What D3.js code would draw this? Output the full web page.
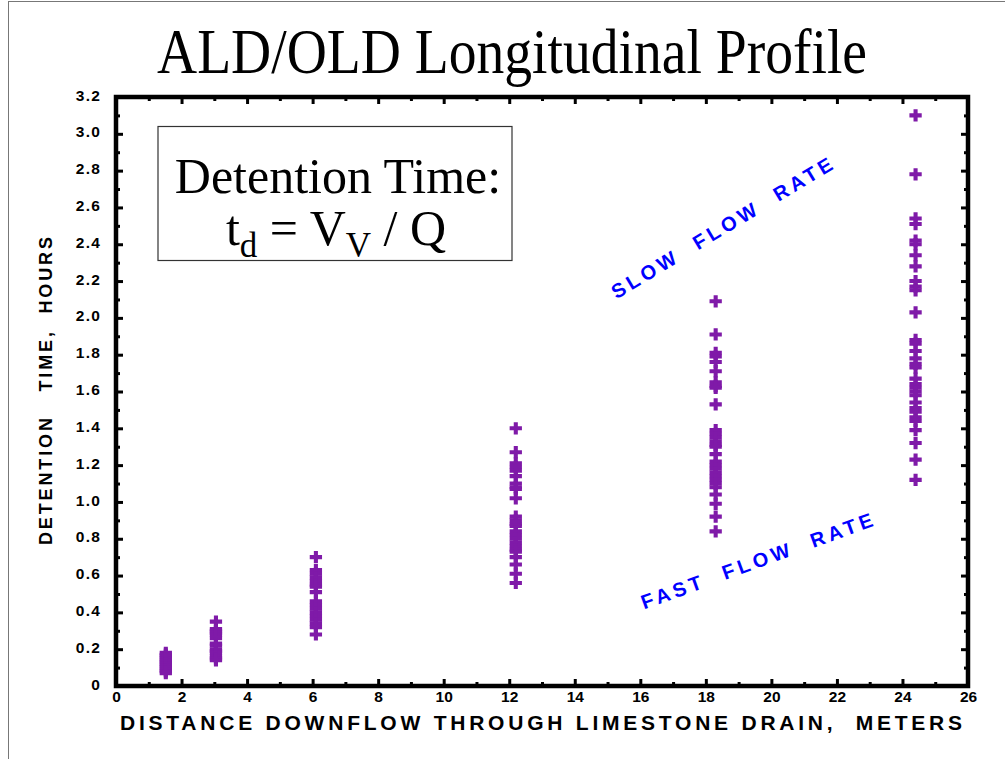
<!DOCTYPE html>
<html>
<head>
<meta charset="utf-8">
<script src="https://cdn.jsdelivr.net/npm/d3@7"></script>
<style>
  body { margin: 0; background: #fff; }
  svg { display: block; }
</style>
</head>
<body>
<div class="container"></div>
<script>
// distances along the drain (m)
const distances = [1.52, 3.05, 6.1, 12.2, 18.3, 24.4]

// detention times (hours)
const times152 = [0.18, 0.17, 0.16, 0.15, 0.14, 0.13, 0.12, 0.11, 0.10, 0.09, 0.08, 0.07]
const times305 = [0.35, 0.31, 0.30, 0.29, 0.28, 0.26, 0.23, 0.22, 0.20, 0.19, 0.18, 0.16, 0.15, 0.14]
const times610 = [0.70, 0.63, 0.61, 0.59, 0.57, 0.55, 0.54, 0.51, 0.46, 0.44, 0.42, 0.40, 0.38, 0.36, 0.34, 0.32, 0.28]
const times1220 = [1.40, 1.27, 1.21, 1.19, 1.17, 1.14, 1.10, 1.08, 1.07, 1.02, 0.92, 0.90, 0.88, 0.87, 0.84,
    0.82, 0.80, 0.78, 0.76, 0.74, 0.73, 0.70, 0.66, 0.61, 0.56]
const times1830 = [2.09, 1.91, 1.81, 1.79, 1.76, 1.71, 1.65, 1.63, 1.62, 1.53, 1.39, 1.37, 1.35, 1.33, 1.31,
    1.30, 1.26, 1.22, 1.20, 1.18, 1.16, 1.14, 1.12, 1.10, 1.08, 1.04, 0.99, 0.92, 0.84]
const times2440 = [3.10, 2.78, 2.54, 2.51, 2.42, 2.40, 2.34, 2.28, 2.20, 2.17, 2.15, 2.03, 1.88, 1.86, 1.82,
    1.78, 1.75, 1.73, 1.67, 1.64, 1.62, 1.60, 1.58, 1.54, 1.51, 1.49, 1.46, 1.44, 1.39, 1.32, 1.23, 1.12]
const columns = [times152, times305, times610, times1220, times1830, times2440]

// tick labels
const xTicks = [0, 2, 4, 6, 8, 10, 12, 14, 16, 18, 20, 22, 24, 26]
const xMinor = [1, 3, 5, 7, 9, 11, 13, 15, 17, 19, 21, 23, 25]
const yTicks = [0, 0.2, 0.4, 0.6, 0.8, 1.0, 1.2, 1.4, 1.6, 1.8, 2.0, 2.2, 2.4, 2.6, 2.8, 3.0, 3.2]
const yTickLabels = ['0', '0.2', '0.4', '0.6', '0.8', '1.0', '1.2', '1.4', '1.6', '1.8', '2.0',
    '2.2', '2.4', '2.6', '2.8', '3.0', '3.2']
const yMinor = [0.1, 0.3, 0.5, 0.7, 0.9, 1.1, 1.3, 1.5, 1.7, 1.9, 2.1, 2.3, 2.5, 2.7, 2.9, 3.1]

const W = 1005, H = 759
const plotL = 116, plotR = 968, plotT = 97, plotB = 686
const purple = '#7f1aa8'
const sans = 'Arial, "Liberation Sans", Helvetica, sans-serif'
const serif = '"Times New Roman", "Liberation Serif", Times, serif'

const svg = d3.select('.container')
    .append('svg')
    .attr('width', W)
    .attr('height', H)

// slide border
svg.append('line').attr('x1', 8).attr('y1', 1.5).attr('x2', W).attr('y2', 1.5)
    .attr('stroke', '#777').attr('stroke-width', 1)
svg.append('line').attr('x1', 8.5).attr('y1', 1).attr('x2', 8.5).attr('y2', H)
    .attr('stroke', '#777').attr('stroke-width', 1)

// title
svg.append('text')
    .attr('x', 512).attr('y', 73)
    .attr('text-anchor', 'middle')
    .attr('font-family', serif)
    .attr('font-size', 64)
    .attr('textLength', 710)
    .attr('lengthAdjust', 'spacingAndGlyphs')
    .text('ALD/OLD Longitudinal Profile')

const x = d3.scaleLinear().domain([0, 26]).range([plotL, plotR])
const y = d3.scaleLinear().domain([0, 3.2]).range([plotB, plotT])

//axes: ticks point inward, frame drawn as a rect afterwards
function styleAxis(g) {
    g.select('.domain').remove()
    g.selectAll('.tick line').attr('stroke', '#000').attr('stroke-width', 3)
    g.selectAll('.tick text')
        .attr('font-family', sans)
        .attr('font-weight', 'bold')
        .attr('font-size', 15.5)
        .attr('fill', '#000')
}

svg.append('g').attr('transform', `translate(0,${plotB})`)
    .call(d3.axisBottom(x).tickValues(xTicks).tickSize(-7).tickPadding(5).tickFormat(d3.format('d')))
    .call(styleAxis)
svg.append('g').attr('transform', `translate(0,${plotB})`)
    .call(d3.axisBottom(x).tickValues(xMinor).tickSize(-4).tickFormat(''))
    .call(styleAxis)
svg.append('g').attr('transform', `translate(0,${plotT})`)
    .call(d3.axisTop(x).tickValues(xTicks).tickSize(-7).tickFormat(''))
    .call(styleAxis)
svg.append('g').attr('transform', `translate(0,${plotT})`)
    .call(d3.axisTop(x).tickValues(xMinor).tickSize(-4).tickFormat(''))
    .call(styleAxis)

svg.append('g').attr('transform', `translate(${plotL},0)`)
    .call(d3.axisLeft(y).tickValues(yTicks).tickSize(-7).tickPadding(15)
        .tickFormat((d, i) => yTickLabels[i]))
    .call(styleAxis)
    .call(g => g.selectAll('.tick text').attr('letter-spacing', 1.2).attr('dy', '0.2em'))
svg.append('g').attr('transform', `translate(${plotL},0)`)
    .call(d3.axisLeft(y).tickValues(yMinor).tickSize(-4).tickFormat(''))
    .call(styleAxis)
svg.append('g').attr('transform', `translate(${plotR},0)`)
    .call(d3.axisRight(y).tickValues(yTicks).tickSize(-7).tickFormat(''))
    .call(styleAxis)
svg.append('g').attr('transform', `translate(${plotR},0)`)
    .call(d3.axisRight(y).tickValues(yMinor).tickSize(-4).tickFormat(''))
    .call(styleAxis)

// frame
svg.append('rect')
    .attr('x', plotL).attr('y', plotT)
    .attr('width', plotR - plotL).attr('height', plotB - plotT)
    .attr('fill', 'none')
    .attr('stroke', '#000')
    .attr('stroke-width', 4.5)

// axis titles
svg.append('text')
    .attr('x', 541).attr('y', 730)
    .attr('text-anchor', 'middle')
    .attr('font-family', sans)
    .attr('font-weight', 'bold')
    .attr('font-size', 21)
    .attr('textLength', 842)
    .attr('lengthAdjust', 'spacing')
    .style('white-space', 'pre')
    .text('DISTANCE DOWNFLOW THROUGH LIMESTONE DRAIN,  METERS')

svg.append('text')
    .attr('transform', 'translate(52,391) rotate(-90)')
    .attr('text-anchor', 'middle')
    .attr('font-family', sans)
    .attr('font-weight', 'bold')
    .attr('font-size', 18)
    .attr('textLength', 308)
    .attr('lengthAdjust', 'spacing')
    .style('white-space', 'pre')
    .text('DETENTION   TIME,  HOURS')

// data: plus markers
const points = []
columns.forEach((col, i) => col.forEach(v => points.push({ d: distances[i], t: v })))

svg.append('g')
    .selectAll('path')
    .data(points)
    .join('path')
    .attr('transform', p => `translate(${x(p.d)},${y(p.t)})`)
    .attr('d', d3.symbol(d3.symbolCross, 84))
    .attr('fill', purple)

// formula box
svg.append('rect')
    .attr('x', 158).attr('y', 126.5)
    .attr('width', 354).attr('height', 134)
    .attr('fill', '#fff')
    .attr('stroke', '#333')
    .attr('stroke-width', 1.2)

svg.append('text')
    .attr('x', 338).attr('y', 193)
    .attr('text-anchor', 'middle')
    .attr('font-family', serif)
    .attr('font-size', 50)
    .text('Detention Time:')

const formula = svg.append('text')
    .attr('x', 336).attr('y', 245)
    .attr('text-anchor', 'middle')
    .attr('font-family', serif)
    .attr('font-size', 50)
    .style('white-space', 'pre')
formula.append('tspan').text('t')
formula.append('tspan').attr('font-size', 35).attr('dy', 12).text('d')
formula.append('tspan').attr('dy', -12).text(' = V')
formula.append('tspan').attr('font-size', 35).attr('dy', 12).text('V')
formula.append('tspan').attr('dy', -12).text(' / Q')

// flow rate notes
svg.append('text')
    .attr('transform', 'translate(727,233) rotate(-31)')
    .attr('text-anchor', 'middle')
    .attr('font-family', sans)
    .attr('font-weight', 'bold')
    .attr('font-size', 20)
    .attr('letter-spacing', 4)
    .attr('fill', '#0000ff')
    .style('white-space', 'pre')
    .text('SLOW  FLOW  RATE')

svg.append('text')
    .attr('transform', 'translate(761,567) rotate(-20)')
    .attr('text-anchor', 'middle')
    .attr('font-family', sans)
    .attr('font-weight', 'bold')
    .attr('font-size', 20)
    .attr('letter-spacing', 4)
    .attr('fill', '#0000ff')
    .style('white-space', 'pre')
    .text('FAST  FLOW  RATE')
</script>
</body>
</html>
